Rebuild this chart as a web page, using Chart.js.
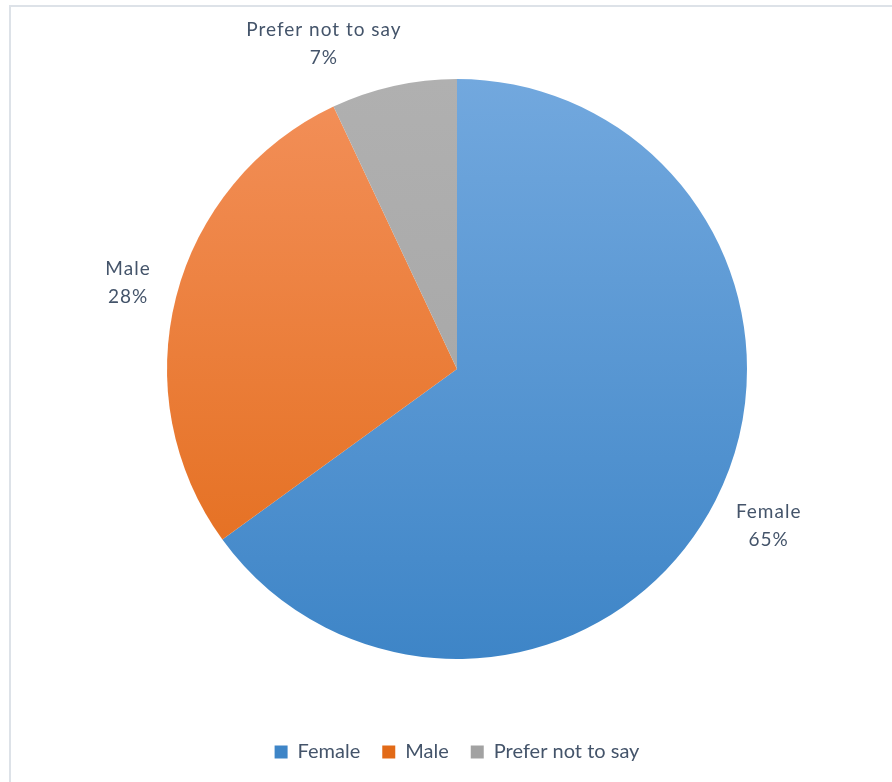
<!DOCTYPE html>
<html>
<head>
<meta charset="utf-8">
<script src="https://cdn.jsdelivr.net/npm/chart.js@4/dist/chart.umd.min.js"></script>
<style>
    html, body { margin: 0; padding: 0; background: #fff; overflow: hidden; }
    #frame {
        position: absolute; left: 9px; top: 5px;
        width: 900px; height: 800px;
        border: 2px solid #dde2e8;
    }
    #genderChart { position: absolute; left: 0; top: 0; }
</style>
</head>
<body>
<div id="frame"></div>
<canvas id="genderChart" width="892" height="782"></canvas>
<script>
// Survey respondents by gender
let genderLabels = ['Female', 'Male', 'Prefer not to say'];
let genderShare = [65, 28, 7];

// top / bottom colour of each slice's vertical gradient
let topColors = ['#72a8de', '#f3905a', '#b0b0b0'];
let bottomColors = ['#3e85c7', '#e26a17', '#a2a2a2'];

let labelColor = '#44546a';
let fontFamily = 'Lato, "Open Sans", sans-serif';

function sliceGradient(context) {
    let chart = context.chart;
    let area = chart.chartArea;
    if (!area) return topColors[context.dataIndex];
    let r = Math.min(area.right - area.left, area.bottom - area.top) / 2;
    let cy = (area.top + area.bottom) / 2;
    let g = chart.ctx.createLinearGradient(0, cy - r, 0, cy + r);
    g.addColorStop(0, topColors[context.dataIndex]);
    g.addColorStop(1, bottomColors[context.dataIndex]);
    return g;
}

// category name + percentage placed just outside each slice;
// a label that would run off the top is swung round the pie until it fits
const outsideLabels = {
    id: 'outsideLabels',
    afterDatasetsDraw(chart) {
        let ctx = chart.ctx;
        let meta = chart.getDatasetMeta(0);
        let lineGap = 28;
        let minTop = 16;
        ctx.save();
        ctx.fillStyle = labelColor;
        ctx.font = '19px ' + fontFamily;
        ctx.letterSpacing = '1px';
        ctx.textAlign = 'center';
        ctx.textBaseline = 'middle';
        meta.data.forEach((arc, i) => {
            let p = arc.getProps(['x', 'y', 'startAngle', 'endAngle', 'outerRadius'], true);
            let lines = [genderLabels[i], genderShare[i] + '%'];
            let halfW = Math.max(...lines.map(t => ctx.measureText(t).width)) / 2;
            let halfH = lineGap;
            let dist = p.outerRadius + 27;
            let angle = (p.startAngle + p.endAngle) / 2;
            let place = a => {
                let dx = Math.cos(a), dy = Math.sin(a);
                return {
                    x: p.x + dx * dist + dx * halfW,
                    y: p.y + dy * dist + dy * halfH
                };
            };
            let c = place(angle);
            let step = Math.cos(angle) < 0 ? -0.002 : 0.002;
            let guard = 0;
            while (c.y - halfH < minTop && guard++ < 1000) {
                angle += step;
                c = place(angle);
            }
            ctx.fillText(lines[0], c.x, c.y - lineGap / 2);
            ctx.fillText(lines[1], c.x, c.y + lineGap / 2);
        });
        ctx.restore();
    }
};

new Chart(document.getElementById('genderChart'), {
    type: 'pie',
    data: {
        labels: genderLabels,
        datasets: [{
            data: genderShare,
            backgroundColor: sliceGradient,
            borderWidth: 0
        }]
    },
    options: {
        responsive: false,
        animation: false,
        layout: {
            padding: { top: 18, left: 167, right: 145, bottom: 10 }
        },
        plugins: {
            legend: {
                position: 'bottom',
                labels: {
                    boxWidth: 13,
                    boxHeight: 13,
                    padding: 22,
                    color: labelColor,
                    font: { size: 20, family: fontFamily },
                    generateLabels(chart) {
                        return genderLabels.map((name, i) => ({
                            text: name,
                            fillStyle: bottomColors[i],
                            strokeStyle: bottomColors[i],
                            lineWidth: 0,
                            fontColor: labelColor,
                            index: i,
                            hidden: false
                        }));
                    }
                }
            },
            tooltip: { enabled: false }
        }
    },
    plugins: [outsideLabels]
});
</script>
</body>
</html>
